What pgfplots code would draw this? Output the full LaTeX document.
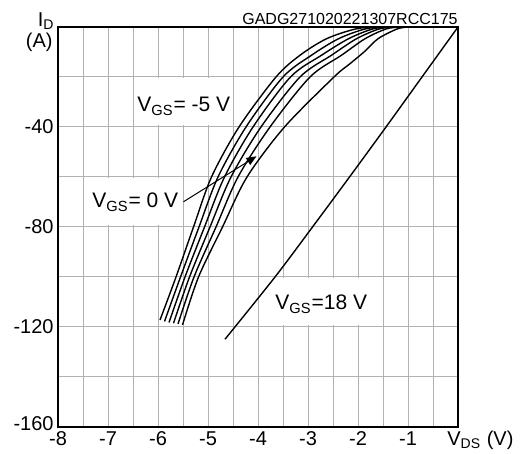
\documentclass[border=0pt]{standalone}
\usepackage{fontspec}
\setmainfont{Liberation Sans}
\usepackage{pgfplots}
\pgfplotsset{compat=1.18}
\usetikzlibrary{arrows.meta}

\begin{document}
\begin{tikzpicture}
\begin{axis}[
    at={(0,0)}, anchor=south west,
    width=200pt, height=200pt, scale only axis,
    xmin=-8, xmax=0, ymin=-160, ymax=0,
    xtick={-8,...,-1}, minor xtick={-7.5,-6.5,...,-0.5},
    ytick={-160,-120,-80,-40}, minor ytick={-140,-100,-60,-20},
    yticklabels={\raisebox{3.5pt}{-160},-120,-80,-40},
    grid=both,
    major grid style={draw=black!30, line width=0.5pt},
    minor grid style={draw=black!30, line width=0.5pt},
    major tick length=0pt, minor tick length=0pt,
    axis line style={line width=0.6pt},
    tick label style={font=\fontsize{10}{12}\selectfont, inner sep=2pt},
    /pgf/number format/assume math mode=true,
    clip mode=individual,
    every axis plot/.append style={line width=0.7pt, black, mark=none},
]
% white boxes behind the annotations
\fill[white] (axis cs:-6.45,-20.6) rectangle (axis cs:-4.55,-39.4);
\fill[white] (axis cs:-7.45,-60.6) rectangle (axis cs:-5.55,-79.4);
\fill[white] (axis cs:-3.9,-100.6) rectangle (axis cs:-1.6,-119.4);

% V_GS = -5 V ... 0 V (left to right)
\addplot[smooth] coordinates {
    (-5.96,-117.2) (-5.64,-100) (-5.29,-80) (-4.93,-60) (-4.38,-40)
    (-3.64,-20) (-3.16,-11.3) (-2.63,-4.7) (-2.05,-0.8) (-1.60,0) (-1.0,0)
};
\addplot[smooth] coordinates {
    (-5.87,-117.8) (-5.55,-100) (-5.18,-80) (-4.80,-60) (-4.24,-40)
    (-3.50,-20) (-2.93,-11.3) (-2.39,-4.7) (-1.86,-0.8) (-1.45,0) (-1.0,0)
};
\addplot[smooth] coordinates {
    (-5.78,-118.2) (-5.46,-100) (-5.07,-80) (-4.67,-60) (-4.10,-40)
    (-3.35,-20) (-2.73,-11.3) (-2.19,-4.7) (-1.71,-0.8) (-1.35,0) (-1.0,0)
};
\addplot[smooth] coordinates {
    (-5.69,-118.5) (-5.37,-100) (-4.96,-80) (-4.54,-60) (-3.94,-40)
    (-3.16,-20) (-2.53,-11.3) (-2.03,-4.7) (-1.58,-0.8) (-1.25,0) (-1.0,0)
};
\addplot[smooth] coordinates {
    (-5.60,-118.8) (-5.28,-100) (-4.84,-80) (-4.40,-60) (-3.76,-40)
    (-2.96,-20) (-2.33,-11.3) (-1.86,-4.7) (-1.44,-0.8) (-1.15,0) (-1.0,0)
};
\addplot[smooth] coordinates {
    (-5.51,-119.2) (-5.19,-100) (-4.71,-80) (-4.22,-60) (-3.47,-40)
    (-2.48,-20) (-2.18,-15) (-1.88,-10) (-1.60,-4.7) (-1.22,-0.8) (-1.0,0)
};
% V_GS = 18 V
\addplot[smooth] coordinates {
    (-4.66,-124.9) (-3.66,-100) (-2.91,-80) (-2.17,-60) (-1.44,-40) (-0.72,-20) (0,0)
};

\node[anchor=base west, inner sep=0pt, font=\fontsize{10.5}{12}\selectfont] at (axis cs:-6.42,-33.9) {V\textsubscript{GS}= -5 V};
\node[anchor=base west, inner sep=0pt, font=\fontsize{10.5}{12}\selectfont] at (axis cs:-7.32,-72.4) {V\textsubscript{GS}= 0 V};
\node[anchor=base west, inner sep=0pt, font=\fontsize{10.5}{12}\selectfont] at (axis cs:-3.66,-113.2) {V\textsubscript{GS}=18 V};
\draw[line width=0.5pt, -{Triangle[length=5pt,width=4pt]}] (axis cs:-5.49,-69.9) -- (axis cs:-4.03,-51.7);

\node[anchor=base east, inner sep=0pt, xshift=-1.5pt, font=\fontsize{10}{12}\selectfont] at (rel axis cs:0,1) {I\textsubscript{D}};
\node[anchor=north east, inner sep=0pt, xshift=-2.5pt, yshift=-3pt, font=\fontsize{10}{12}\selectfont] at (rel axis cs:0,1) {(A)};
\node[anchor=base west, inner sep=0pt, yshift=-9.3pt, font=\fontsize{10}{12}\selectfont] at (rel axis cs:0.9725,0) {V\textsubscript{DS} (V)};
\node[anchor=base east, inner sep=0pt, yshift=1pt, font=\fontsize{8}{10}\selectfont] at (rel axis cs:1,1) {GADG271020221307RCC175};
\end{axis}
\pgfresetboundingbox
\useasboundingbox (-29pt,-13.5pt) rectangle (233.5pt,213.5pt);
\end{tikzpicture}
\end{document}
